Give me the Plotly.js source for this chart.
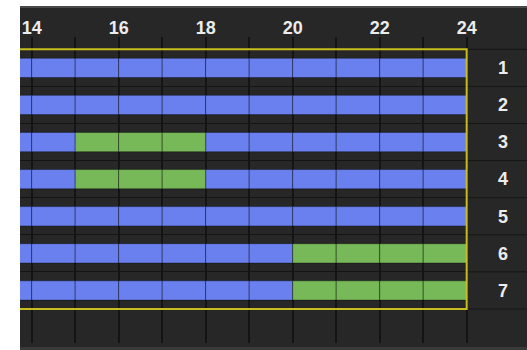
<!DOCTYPE html>
<html>
<head>
<meta charset="utf-8">
<script src="https://cdn.plot.ly/plotly-3.0.1.min.js"></script>
<style>
  html, body { margin: 0; padding: 0; background: #ffffff; width: 527px; height: 350px; overflow: hidden; }
  #chart { position: absolute; left: 20px; top: 6px; width: 507px; height: 339px;
           border-top: 2px solid #4a4a4a; border-bottom: 3px solid #3a3a3a; }
</style>
</head>
<body>
<div id="chart"></div>
<script>
// Rows (days) shown on the right
const dayLabels = ['1', '2', '3', '4', '5', '6', '7'];
// Hour slots of the day
const hours = [0, 1, 2, 3, 4, 5, 6, 7, 8, 9, 10, 11, 12, 13, 14, 15, 16, 17, 18, 19, 20, 21, 22, 23];
// Recording type per hour: 0 = continuous (blue), 1 = event (green)
const day1 = [0,0,0,0,0,0,0,0,0,0,0,0,0,0,0,0,0,0,0,0,0,0,0,0];
const day2 = [0,0,0,0,0,0,0,0,0,0,0,0,0,0,0,0,0,0,0,0,0,0,0,0];
const day3 = [0,0,0,0,0,0,0,0,0,0,0,0,0,0,0,1,1,1,0,0,0,0,0,0];
const day4 = [0,0,0,0,0,0,0,0,0,0,0,0,0,0,0,1,1,1,0,0,0,0,0,0];
const day5 = [0,0,0,0,0,0,0,0,0,0,0,0,0,0,0,0,0,0,0,0,0,0,0,0];
const day6 = [0,0,0,0,0,0,0,0,0,0,0,0,0,0,0,0,0,0,0,0,1,1,1,1];
const day7 = [0,0,0,0,0,0,0,0,0,0,0,0,0,0,0,0,0,0,0,0,1,1,1,1];
// Axis ticks
const xTickVals = [14, 16, 18, 20, 22, 24];
const xTickLabels = ['14', '16', '18', '20', '22', '24'];

const schedule = [day1, day2, day3, day4, day5, day6, day7];
const typeColors = ['#6a80ee', '#77b858'];
const typeNames = ['Continuous', 'Event'];

const traces = typeColors.map((c, t) => {
  const xs = [], bases = [], ys = [];
  schedule.forEach((day, d) => {
    day.forEach((v, h) => {
      if (v === t) { xs.push(1); bases.push(hours[h]); ys.push(d + 1); }
    });
  });
  return {
    type: 'bar', orientation: 'h', name: typeNames[t],
    x: xs, base: bases, y: ys, width: 0.52,
    marker: { color: c, line: { color: 'rgba(0,0,0,0.35)', width: 1 } },
    hoverinfo: 'skip', showlegend: false
  };
});

const nRows = dayLabels.length;
const shapes = [];
// separators in the label column (right margin)
for (let i = 0; i <= nRows; i++) {
  shapes.push({ type: 'line', xref: 'paper', yref: 'y', x0: 1, x1: 1.14,
    y0: i + 0.5, y1: i + 0.5, line: { color: '#161616', width: 1 }, layer: 'above' });
}
// yellow schedule frame
shapes.push({ type: 'rect', xref: 'x', yref: 'y', x0: hours[0], x1: hours[hours.length - 1] + 1,
  y0: 0.5, y1: nRows + 0.5, line: { color: '#c8bf1e', width: 2 }, layer: 'above' });

const labelFont = { family: 'Liberation Sans, Arial, sans-serif', size: 18, color: '#ececec', weight: 'bold' };

const layout = {
  width: 507, height: 339,
  margin: { l: 0, r: 59, t: 29, b: 4 },
  paper_bgcolor: '#272727', plot_bgcolor: '#272727',
  barmode: 'overlay',
  font: { family: 'Liberation Sans, Arial, sans-serif', color: '#ececec', size: 18 },
  xaxis: {
    side: 'top', range: [13.732, 24.03],
    tickmode: 'array', tickvals: xTickVals, ticktext: xTickLabels,
    ticks: '', showgrid: true, gridcolor: '#141414', gridwidth: 2,
    minor: { tick0: 0, dtick: 1, showgrid: true, gridcolor: '#141414', gridwidth: 2 },
    zeroline: false, showline: false, fixedrange: true,
    ticklabelstandoff: -2,
    tickfont: labelFont
  },
  yaxis: {
    side: 'right', range: [8.416, 0.168],
    tickmode: 'array', tickvals: dayLabels.map((_, i) => i + 1), ticktext: dayLabels,
    ticks: '', showgrid: false, zeroline: false, showline: false,
    minor: { tick0: 0.5, dtick: 1, showgrid: true, gridcolor: '#141414', gridwidth: 1 },
    ticklabelstandoff: 29, fixedrange: true,
    tickfont: labelFont
  },
  shapes: shapes
};

Plotly.newPlot('chart', traces, layout, { displayModeBar: false, staticPlot: true });
</script>
</body>
</html>
